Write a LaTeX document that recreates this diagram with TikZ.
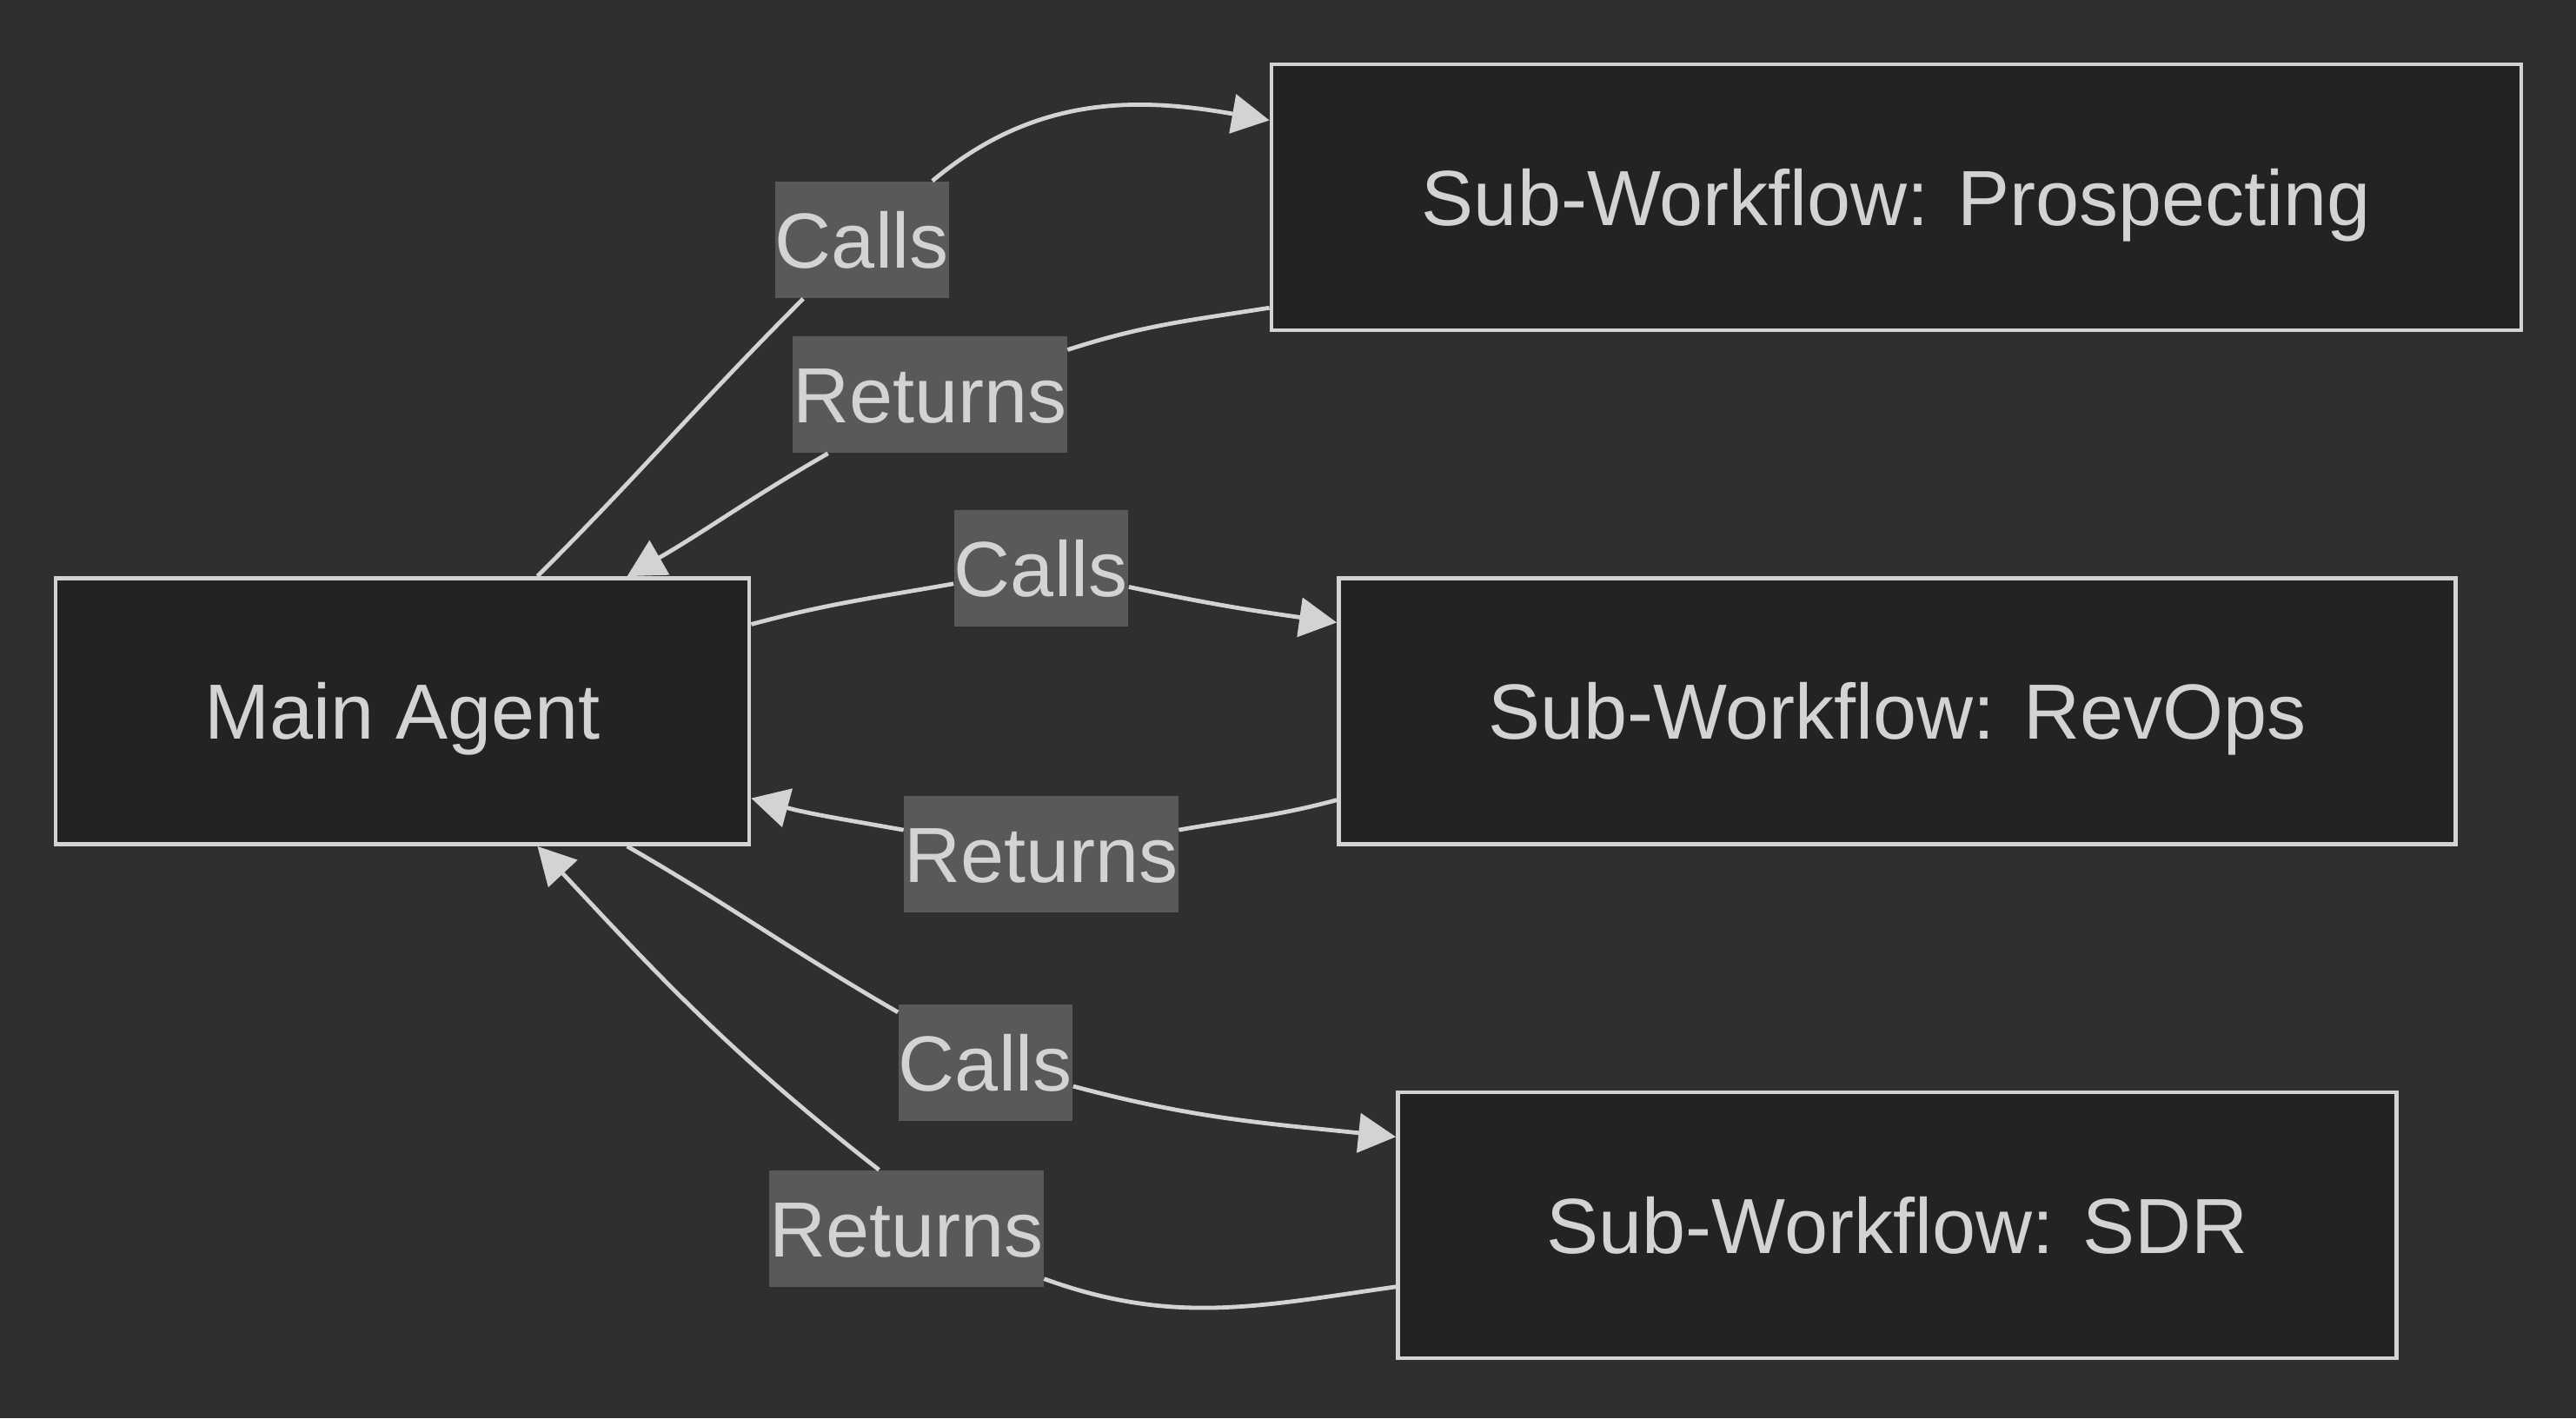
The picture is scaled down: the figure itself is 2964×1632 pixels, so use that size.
\documentclass[tikz,border=0pt]{standalone}
\usepackage{fontspec}
\setmainfont{Liberation Sans}
\usepackage{tikz}
\usetikzlibrary{arrows.meta}

\definecolor{bgcol}{HTML}{2F2F32}
\definecolor{boxcol}{HTML}{222424}
\definecolor{linecol}{HTML}{D3D3D3}
\definecolor{lblcol}{HTML}{595959}

\begin{document}
\begin{tikzpicture}[x=0.25pt,y=-0.25pt
	,>={Triangle[length=10.75pt,width=11.25pt]}
	,font=\fontsize{22.5}{27}\selectfont
	,every node/.style={text=linecol}]
  \tikzstyle{flowbox}
  =[draw=linecol,fill=boxcol,line width=1.2pt,minimum height=76.5pt
   ,text height=16.1pt,text depth=0pt]
  \tikzstyle{flowlbl}
  =[fill=lblcol,inner xsep=0pt,inner ysep=0pt,minimum height=33.5pt
   ,text height=16.1pt,text depth=0pt]
  \tikzstyle{flow}
  =[->,draw=linecol,line width=1.2pt]

  % background
  \fill[bgcol] (0,0) rectangle (2964,1632);

  % agent and the three sub-workflows
  \node[flowbox,minimum width=199.5pt]  (main)    at (463,818.5)  {Main Agent};
  \node[flowbox,minimum width=359.5pt]  (prosp)   at (2182,227)   {Sub-Workflow: Prospecting};
  \node[flowbox,minimum width=321.25pt] (revops)  at (2183,818.5) {Sub-Workflow: RevOps};
  \node[flowbox,minimum width=287.25pt] (sdr)     at (2183,1410)  {Sub-Workflow: SDR};

  % edge labels
  \node[flowlbl] (callsp)  at (992,276)   {Calls};
  \node[flowlbl] (retp)    at (1070,454)  {Returns};
  \node[flowlbl] (callsr)  at (1198,654)  {Calls};
  \node[flowlbl] (retr)    at (1198,983)  {Returns};
  \node[flowlbl] (callss)  at (1134,1223) {Calls};
  \node[flowlbl] (rets)    at (1043,1414) {Returns};

  % prospecting
  \draw [flow] (main.45)     to[out=45,in=225]  (callsp) to[out=40,in=170]  (prosp.173);
  \draw [flow] (prosp.190)   to[out=189,in=18]  (retp)   to[out=210,in=30]  (main.31);
  % revops
  \draw [flow] (main.14)     to[out=15,in=190]  (callsr) to[out=-12,in=172] (revops.171);
  \draw [flow] (revops.189.5) to[out=195,in=10] (retr)   to[out=170,in=-15] (main.-14);
  % sdr
  \draw [flow] (main.-31)    to[out=-30,in=150] (callss) to[out=-15,in=174] (sdr.170);
  \draw [flow] (sdr.187)     to[out=188,in=-20] (rets)
               (rets.115)    to[out=142,in=-47] (main.-45);

\end{tikzpicture}
\end{document}
